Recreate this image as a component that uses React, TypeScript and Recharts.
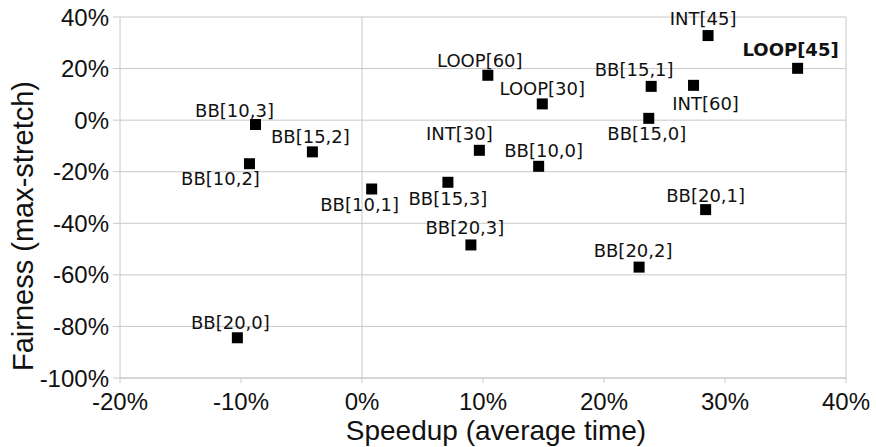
import {
  CartesianGrid,
  Label,
  ReferenceLine,
  Scatter,
  ScatterChart,
  XAxis,
  YAxis,
} from "recharts";

document.body.style.margin = "0";

const names = [
  "BB[10,3]", "BB[15,2]", "BB[10,2]", "BB[10,1]", "BB[20,0]",
  "LOOP[60]", "LOOP[30]", "INT[30]", "BB[10,0]", "BB[15,3]",
  "INT[45]", "LOOP[45]", "BB[15,1]", "INT[60]", "BB[15,0]",
  "BB[20,1]", "BB[20,3]", "BB[20,2]",
];
const speedup = [
  -8.8, -4.1, -9.3, 0.8, -10.3,
  10.4, 14.9, 9.7, 14.6, 7.1,
  28.6, 36.0, 23.9, 27.4, 23.7,
  28.4, 9.0, 22.9,
];
const fairness = [
  -1.7, -12.3, -16.9, -26.7, -84.4,
  17.4, 6.3, -11.7, -17.9, -24.1,
  32.8, 20.1, 13.1, 13.5, 0.7,
  -34.7, -48.4, -57.0,
];
const xTicks = [-20, -10, 0, 10, 20, 30, 40];
const yTicks = [-100, -80, -60, -40, -20, 0, 20, 40];

// where each label sits relative to its marker (px)
const labelOffset: Record<string, [number, number]> = {
  "BB[10,3]": [-21, -14],
  "BB[15,2]": [-2, -15],
  "BB[10,2]": [-29, 15],
  "BB[10,1]": [-12, 16],
  "BB[20,0]": [-7, -15],
  "LOOP[60]": [-8, -15],
  "LOOP[30]": [0, -15],
  "INT[30]": [-20, -17],
  "BB[10,0]": [5, -16],
  "BB[15,3]": [0, 16],
  "INT[45]": [-5, -17],
  "LOOP[45]": [-7, -19],
  "BB[15,1]": [-17, -17],
  "INT[60]": [12, 18],
  "BB[15,0]": [-2, 15],
  "BB[20,1]": [0, -14],
  "BB[20,3]": [-6, -17],
  "BB[20,2]": [-6, -17],
};

const data = names.map((name, i) => ({
  name,
  x: speedup[i],
  y: fairness[i],
}));

const gridColor = "#c8c8c8";
const tickFont = { fontFamily: "Liberation Sans", fontSize: 24, fill: "#111" };

function Point(props: any) {
  const { cx, cy, payload } = props;
  const [dx, dy] = labelOffset[payload.name] || [0, -15];
  const bold = payload.name === "LOOP[45]";
  return (
    <g>
      <rect x={cx - 5.5} y={cy - 5.5} width={11} height={11} fill="#000" />
      <text
        x={cx + dx}
        y={cy + dy}
        textAnchor="middle"
        dominantBaseline="central"
        fontFamily="DejaVu Sans"
        fontSize={18}
        fontWeight={bold ? "bold" : "normal"}
        fill="#111"
      >
        {payload.name}
      </text>
    </g>
  );
}

export default function App() {
  return (
    <ScatterChart
      width={876}
      height={447}
      margin={{ top: 17, right: 30, bottom: 0, left: 40 }}
    >
      <CartesianGrid vertical={false} stroke={gridColor} />
      <XAxis
        type="number"
        dataKey="x"
        domain={[-20, 40]}
        ticks={xTicks}
        tickFormatter={(v) => `${v}%`}
        height={69}
        tick={tickFont}
        tickSize={5}
        tickMargin={10}
        stroke={gridColor}
        interval={0}
      >
        <Label
          content={() => (
            <text
              x={496}
              y={440}
              textAnchor="middle"
              fontFamily="Liberation Sans"
              fontSize={28}
              fill="#111"
            >
              Speedup (average time)
            </text>
          )}
        />
      </XAxis>
      <YAxis
        type="number"
        dataKey="y"
        domain={[-100, 40]}
        ticks={yTicks}
        tickFormatter={(v) => `${v}%`}
        width={80}
        tick={tickFont}
        tickSize={7}
        tickMargin={4}
        stroke={gridColor}
        interval={0}
      >
        <Label
          content={() => (
            <text
              x={33}
              y={226}
              textAnchor="middle"
              transform="rotate(-90 33 226)"
              fontFamily="Liberation Sans"
              fontSize={29}
              fill="#111"
            >
              Fairness (max-stretch)
            </text>
          )}
        />
      </YAxis>
      <ReferenceLine x={0} stroke={gridColor} />
      <ReferenceLine x={40} stroke={gridColor} />
      <Scatter data={data} shape={Point} isAnimationActive={false} />
    </ScatterChart>
  );
}
